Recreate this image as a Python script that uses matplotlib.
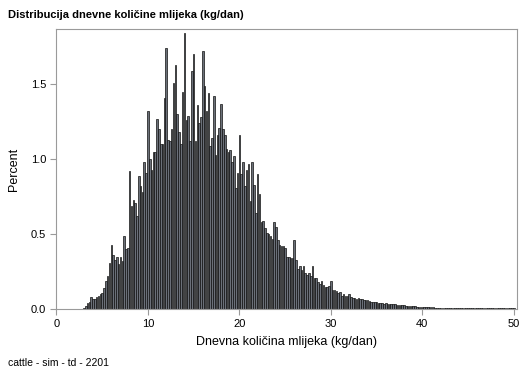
# -*- coding: utf-8 -*-
# Histogram of daily milk yield (percent of records per 0.2 kg bin)

import numpy as np
import matplotlib
matplotlib.use("Agg")
import matplotlib.pyplot as plt

NASLOV = "Distribucija dnevne količine mlijeka (kg/dan)"
OZNAKA_X = "Dnevna količina mlijeka (kg/dan)"
OZNAKA_Y = "Percent"
FUSNOTA = "cattle - sim - td - 2201"

# first bin centre and bin width (kg/dan)
POCETAK = 3.0
SIRINA = 0.2

# percent per bin, one row per kg (x.0, x.2, x.4, x.6, x.8)
POSTOTAK = [
    0.010, 0.020, 0.040, 0.045, 0.078,   # 3
    0.070, 0.070, 0.078, 0.090, 0.100,   # 4
    0.110, 0.140, 0.190, 0.220, 0.310,   # 5
    0.430, 0.360, 0.330, 0.350, 0.300,   # 6
    0.350, 0.320, 0.490, 0.400, 0.410,   # 7
    0.920, 0.690, 0.730, 0.710, 0.620,   # 8
    0.890, 0.820, 0.780, 0.980, 0.910,   # 9
    1.320, 1.000, 0.930, 1.050, 1.050,   # 10
    1.270, 1.200, 1.100, 1.100, 1.410,   # 11
    1.740, 1.130, 1.120, 1.200, 1.510,   # 12
    1.630, 1.300, 1.180, 1.100, 1.450,   # 13
    1.840, 1.260, 1.290, 1.120, 1.590,   # 14
    1.700, 1.120, 1.360, 1.240, 1.280,   # 15
    1.720, 1.490, 1.320, 1.440, 1.090,   # 16
    1.140, 1.420, 1.030, 1.160, 1.210,   # 17
    1.370, 1.200, 1.160, 1.070, 1.050,   # 18
    1.060, 0.980, 1.020, 0.810, 0.910,   # 19
    1.160, 0.900, 0.980, 0.820, 0.930,   # 20
    0.970, 0.720, 0.980, 0.830, 0.640,   # 21
    0.900, 0.770, 0.580, 0.590, 0.540,   # 22
    0.510, 0.500, 0.490, 0.470, 0.580,   # 23
    0.550, 0.460, 0.430, 0.420, 0.420,   # 24
    0.410, 0.350, 0.350, 0.340, 0.340,   # 25
    0.460, 0.330, 0.270, 0.290, 0.260,   # 26
    0.290, 0.240, 0.230, 0.240, 0.220,   # 27
    0.290, 0.210, 0.210, 0.180, 0.170,   # 28
    0.190, 0.160, 0.150, 0.150, 0.155,   # 29
    0.190, 0.130, 0.130, 0.120, 0.110,   # 30
    0.115, 0.090, 0.100, 0.090, 0.090,   # 31
    0.100, 0.080, 0.076, 0.075, 0.070,   # 32
    0.072, 0.070, 0.068, 0.062, 0.060,   # 33
    0.062, 0.052, 0.050, 0.048, 0.046,   # 34
    0.050, 0.042, 0.040, 0.038, 0.036,   # 35
    0.042, 0.036, 0.034, 0.033, 0.031,   # 36
    0.032, 0.028, 0.027, 0.026, 0.025,   # 37
    0.026, 0.022, 0.021, 0.020, 0.019,   # 38
    0.020, 0.017, 0.016, 0.016, 0.015,   # 39
    0.016, 0.013, 0.013, 0.012, 0.012,   # 40
    0.012, 0.011, 0.010, 0.010, 0.010,   # 41
    0.010, 0.009, 0.009, 0.008, 0.008,   # 42
    0.008, 0.008, 0.007, 0.007, 0.007,   # 43
    0.007, 0.007, 0.006, 0.006, 0.006,   # 44
    0.006, 0.006, 0.006, 0.006, 0.005,   # 45
    0.006, 0.005, 0.005, 0.005, 0.005,   # 46
    0.005, 0.005, 0.005, 0.005, 0.005,   # 47
    0.005, 0.005, 0.005, 0.005, 0.005,   # 48
    0.005, 0.005, 0.004, 0.005, 0.004,   # 49
    0.005,                               # 50
]

X_TICKS = [0, 10, 20, 30, 40, 50]
Y_TICKS = [0.0, 0.5, 1.0, 1.5]

plt.rcParams["font.family"] = ["Liberation Sans", "DejaVu Sans"]

sredine = POCETAK + SIRINA * np.arange(len(POSTOTAK))

fig = plt.figure(figsize=(5.29, 3.78), dpi=100)
ax = fig.add_axes([56 / 529, 1 - 309 / 378, 461 / 529, 280 / 378])

ax.bar(sredine, POSTOTAK, width=SIRINA * 0.85, color="#6b7079",
       edgecolor="#111111", linewidth=0.5)

ax.set_xlim(-0.05, 50.35)
ax.set_ylim(0, 1.87)
ax.set_xticks(X_TICKS)
ax.set_yticks(Y_TICKS)
ax.set_xticklabels([str(t) for t in X_TICKS])
ax.set_yticklabels(["%.1f" % t for t in Y_TICKS])

for strana in ax.spines.values():
    strana.set_color("#9a9a9a")
    strana.set_linewidth(0.8)
ax.tick_params(direction="out", length=4, width=0.8, color="#9a9a9a",
               labelsize=8, labelcolor="black", pad=3)

ax.set_xlabel(OZNAKA_X, fontsize=9, labelpad=5)
ax.set_ylabel(OZNAKA_Y, fontsize=9, labelpad=8)

fig.text(8 / 529, 1 - 15 / 378, NASLOV, fontsize=8, fontweight="bold",
         ha="left", va="center")
fig.text(8 / 529, 1 - 363 / 378, FUSNOTA, fontsize=7.5, ha="left", va="center")

fig.savefig("out.png", dpi=100)
